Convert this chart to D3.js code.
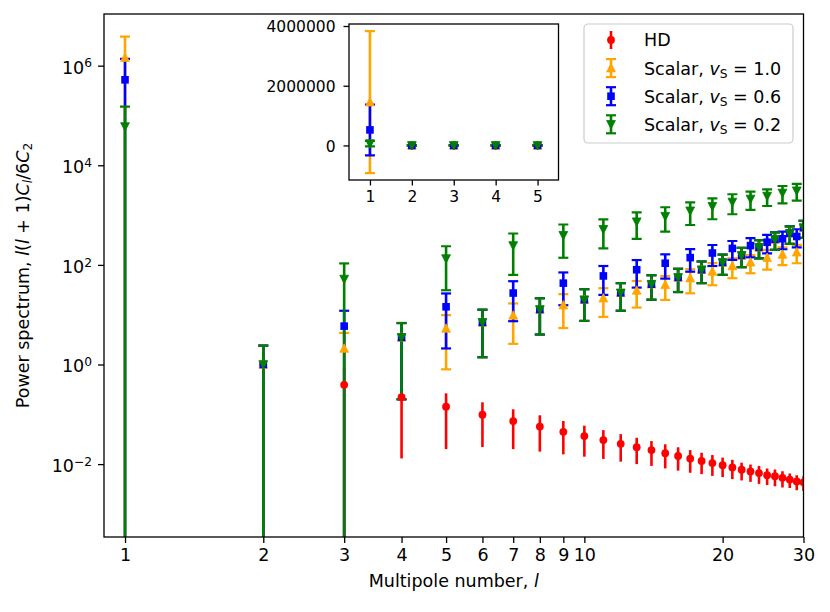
<!DOCTYPE html>
<html>
<head>
<meta charset="utf-8">
<script src="https://cdn.jsdelivr.net/npm/d3@7"></script>
<style>
  body { margin: 0; background: #fff; }
  svg { font-family: "DejaVu Sans", sans-serif; }
</style>
</head>
<body>
<div id="chart"></div>
<script>
// multipole numbers
const ells  = [1, 2, 3, 4, 5, 6, 7, 8, 9, 10, 11, 12, 13, 14, 15, 16, 17, 18, 19, 20, 21, 22, 23, 24, 25, 26, 27, 28, 29, 30];
const hdEll = [2, 3, 4, 5, 6, 7, 8, 9, 10, 11, 12, 13, 14, 15, 16, 17, 18, 19, 20, 21, 22, 23, 24, 25, 26, 27, 28, 29, 30];

// Hellings-Downs
const hdVal = [1.0, 0.39, 0.22, 0.142, 0.098, 0.073, 0.0567, 0.0445, 0.0366, 0.0304, 0.0256, 0.0219, 0.0191, 0.0166,
               0.0146, 0.0129, 0.0116, 0.0105, 0.0095, 0.0086, 0.0077, 0.0071, 0.0066, 0.0060, 0.0057, 0.0053, 0.0049, 0.0045, 0.0043];
const hdErr = [1.2, 0.45, 0.207, 0.122, 0.076, 0.053, 0.0389, 0.0288, 0.0225, 0.0177, 0.0144, 0.0119, 0.0099, 0.0084,
               0.0072, 0.0062, 0.0053, 0.0047, 0.0040, 0.0036, 0.0030, 0.0027, 0.0026, 0.0022, 0.0021, 0.0019, 0.0016, 0.0015, 0.0014];

// scalar, v_S = 1.0
const s10Val = [1.45e6, 1.0, 2.1, 3.5, 5.3, 7.0, 9.7, 12.7, 15.6, 20, 21.5, 27.5, 30.7, 41, 39.8, 56, 54.3, 80, 74, 112,
                95, 155, 113, 225, 140, 325, 162, 430, 180, 560];
const s10Err = [2.38e6, 1.4, 2.2, 3.3, 4.5, 5.6, 7.1, 8.7, 10.2, 12.5, 12.5, 15.5, 16.8, 21, 20, 27.5, 27.4, 37, 35, 49,
                41, 65, 45, 90, 60, 125, 63, 165, 72, 210];

// scalar, v_S = 0.6
const s06Val = [5.2e5, 1.0, 5.9, 3.5, 14.4, 7.0, 27.2, 12.7, 43, 20, 60, 27.5, 80, 41, 108, 56, 140, 80, 173, 112,
                214, 155, 244, 225, 285, 325, 335, 430, 372, 560];
const s06Err = [8.5e5, 1.4, 6.1, 3.3, 12.3, 5.6, 19.8, 8.7, 27.5, 12.5, 35, 15.5, 45, 21, 55, 27.5, 67, 37, 78, 49,
                88, 65, 102, 90, 114, 125, 129, 165, 147, 210];

// scalar, v_S = 0.2
const s02Val = [6.0e4, 1.0, 52, 3.5, 134, 7.0, 245, 12.7, 393, 20, 518, 27.5, 735, 41, 950, 56, 1220, 80, 1500, 112,
                1830, 155, 2110, 225, 2410, 325, 2780, 430, 3080, 560];
const s02Err = [9e4, 1.4, 55, 3.3, 103, 5.6, 182, 8.7, 254, 12.5, 303, 15.5, 403, 21, 486, 27.5, 588, 37, 675, 49,
                790, 65, 843, 90, 887, 125, 1055, 165, 1136, 210];

const xTicks      = [1, 2, 3, 4, 5, 6, 7, 8, 9, 10, 20, 30];
const yTicks      = [1e-2, 1, 1e2, 1e4, 1e6];
const insetXTicks = [1, 2, 3, 4, 5];
const insetYTicks = [0, 2000000, 4000000];

const SERIES = [
  { name: "HD",  l: hdEll, v: hdVal,  e: hdErr,  color: "#ff0000", marker: "circle", caps: false, sub: null },
  { name: "1.0", l: ells,  v: s10Val, e: s10Err, color: "#ffa500", marker: "up",     caps: true,  sub: "1.0" },
  { name: "0.6", l: ells,  v: s06Val, e: s06Err, color: "#0000ff", marker: "square", caps: true,  sub: "0.6" },
  { name: "0.2", l: ells,  v: s02Val, e: s02Err, color: "#008000", marker: "down",   caps: true,  sub: "0.2" }
];

const W = 830, H = 612;
const MAIN  = { left: 104, right: 803.5, top: 14, bottom: 537 };
const INSET = { left: 349, right: 558.5, top: 24, bottom: 180 };
const FS = 17.5, FS_IN = 15.5;
const CAP = 5, LW = 2.6;

const svg = d3.select("#chart").append("svg")
  .attr("width", W).attr("height", H);

const defs = svg.append("defs");

function drawMarker(g, kind, color, cx, cy) {
  if (kind === "circle") {
    g.append("circle").attr("cx", cx).attr("cy", cy).attr("r", 3.9).attr("fill", color);
  } else if (kind === "square") {
    g.append("rect").attr("x", cx - 3.8).attr("y", cy - 3.8).attr("width", 7.6).attr("height", 7.6).attr("fill", color);
  } else {
    const s = kind === "up" ? 1 : -1;
    g.append("path")
      .attr("d", `M${cx},${cy - 4.6 * s} L${cx + 4.4},${cy + 3.8 * s} L${cx - 4.4},${cy + 3.8 * s} Z`)
      .attr("fill", color).attr("stroke", color).attr("stroke-width", 0.8);
  }
}

// draws bars/caps of every series first, then all markers on top (matplotlib zorder)
function drawSeries(g, x, y, lo, filter) {
  SERIES.forEach(s => {
    s.l.forEach((l, i) => {
      if (!filter(l)) return;
      const v = s.v[i], e = s.e[i];
      const yTop = y(v + e);
      const yBot = (v - e) > lo ? y(v - e) : y.range()[0] + 20;
      g.append("line")
        .attr("x1", x(l)).attr("x2", x(l))
        .attr("y1", yTop).attr("y2", yBot)
        .attr("stroke", s.color).attr("stroke-width", LW);
      if (s.caps) {
        [v + e, v - e].forEach(c => {
          if (c <= lo) return;
          g.append("line")
            .attr("x1", x(l) - CAP).attr("x2", x(l) + CAP)
            .attr("y1", y(c)).attr("y2", y(c))
            .attr("stroke", s.color).attr("stroke-width", 2.2);
        });
      }
    });
  });
  SERIES.forEach(s => {
    s.l.forEach((l, i) => {
      if (!filter(l)) return;
      drawMarker(g, s.marker, s.color, x(l), y(s.v[i]));
    });
  });
}

function styleAxis(g, fs) {
  g.attr("font-family", "DejaVu Sans, sans-serif").attr("font-size", fs);
  g.select(".domain").remove();
  g.selectAll(".tick line").attr("stroke", "#000").attr("stroke-width", 1.3);
  g.selectAll(".tick text").attr("fill", "#000");
}

// ---------- main axes ----------
const x = d3.scaleLog().domain([0.9, 30]).range([MAIN.left, MAIN.right]);
const y = d3.scaleLog().domain([3.44e-4, 1.09e7]).range([MAIN.bottom, MAIN.top]);

defs.append("clipPath").attr("id", "clip-main").append("rect")
  .attr("x", MAIN.left).attr("y", MAIN.top)
  .attr("width", MAIN.right - MAIN.left).attr("height", MAIN.bottom - MAIN.top);

const plot = svg.append("g").attr("clip-path", "url(#clip-main)");
drawSeries(plot, x, y, 0, () => true);

const xAxisG = svg.append("g")
  .attr("transform", `translate(0,${MAIN.bottom})`)
  .call(d3.axisBottom(x).tickValues(xTicks).tickFormat(d3.format("d")).tickSize(6).tickPadding(6));
styleAxis(xAxisG, FS);

const yAxisG = svg.append("g")
  .attr("transform", `translate(${MAIN.left},0)`)
  .call(d3.axisLeft(y).tickValues(yTicks).tickSize(6).tickPadding(6));
styleAxis(yAxisG, FS);
yAxisG.selectAll(".tick text").each(function(d) {
  const t = d3.select(this).text("").attr("dy", "0.42em");
  const ex = Math.round(Math.log10(d));
  t.append("tspan").text("10");
  t.append("tspan").attr("dy", "-0.5em").attr("font-size", "0.7em")
    .text(ex < 0 ? "\u2212" + (-ex) : String(ex));
});

svg.append("rect")
  .attr("x", MAIN.left).attr("y", MAIN.top)
  .attr("width", MAIN.right - MAIN.left).attr("height", MAIN.bottom - MAIN.top)
  .attr("fill", "none").attr("stroke", "#000").attr("stroke-width", 1.3);

// axis labels
svg.append("text")
  .attr("x", (MAIN.left + MAIN.right) / 2).attr("y", 587)
  .attr("text-anchor", "middle").attr("font-size", FS)
  .text("Multipole number, ")
  .append("tspan").attr("font-style", "italic").text("l");

const yl = svg.append("text")
  .attr("transform", `translate(29,${(MAIN.top + MAIN.bottom) / 2}) rotate(-90)`)
  .attr("text-anchor", "middle").attr("font-size", FS);
yl.append("tspan").text("Power spectrum, ");
yl.append("tspan").attr("font-style", "italic").text("l");
yl.append("tspan").text("(");
yl.append("tspan").attr("font-style", "italic").text("l");
yl.append("tspan").text(" + 1)");
yl.append("tspan").attr("font-style", "italic").text("C");
yl.append("tspan").attr("font-style", "italic").attr("font-size", "0.7em").attr("dy", "0.25em").text("l");
yl.append("tspan").attr("dy", "-0.175em").text("/6");
yl.append("tspan").attr("font-style", "italic").text("C");
yl.append("tspan").attr("font-size", "0.7em").attr("dy", "0.25em").text("2");

// ---------- legend ----------
const LEG = { x: 584, y: 24, w: 209, h: 119 };
const leg = svg.append("g");
leg.append("rect")
  .attr("x", LEG.x).attr("y", LEG.y).attr("width", LEG.w).attr("height", LEG.h)
  .attr("rx", 4).attr("fill", "#fff").attr("fill-opacity", 0.8)
  .attr("stroke", "#cccccc").attr("stroke-width", 1.2);

SERIES.forEach((s, i) => {
  const cy = 40 + i * 28.1;
  const hx = 611;
  leg.append("line").attr("x1", hx).attr("x2", hx).attr("y1", cy - 9).attr("y2", cy + 9)
    .attr("stroke", s.color).attr("stroke-width", LW);
  if (s.caps) {
    [cy - 9, cy + 9].forEach(c => {
      leg.append("line").attr("x1", hx - CAP).attr("x2", hx + CAP).attr("y1", c).attr("y2", c)
        .attr("stroke", s.color).attr("stroke-width", 2.2);
    });
  }
  drawMarker(leg, s.marker, s.color, hx, cy);

  const t = leg.append("text").attr("x", 644).attr("y", cy + 6.4).attr("font-size", FS);
  if (!s.sub) {
    t.text(s.name);
  } else {
    t.append("tspan").text("Scalar, ");
    t.append("tspan").attr("font-style", "italic").text("v");
    t.append("tspan").attr("font-size", "0.7em").attr("dy", "0.25em").text("S");
    t.append("tspan").attr("dy", "-0.175em").text(" = " + s.sub);
  }
});

// ---------- inset ----------
const xi = d3.scaleLinear().domain([0.5, 5.5]).range([INSET.left, INSET.right]);
const yi = d3.scaleLinear().domain([-1157500, 4067500]).range([INSET.bottom, INSET.top]);

svg.append("rect")
  .attr("x", INSET.left).attr("y", INSET.top)
  .attr("width", INSET.right - INSET.left).attr("height", INSET.bottom - INSET.top)
  .attr("fill", "#fff");

defs.append("clipPath").attr("id", "clip-inset").append("rect")
  .attr("x", INSET.left).attr("y", INSET.top)
  .attr("width", INSET.right - INSET.left).attr("height", INSET.bottom - INSET.top);

const inset = svg.append("g").attr("clip-path", "url(#clip-inset)");
drawSeries(inset, xi, yi, -1e12, l => l <= 5);

const xiG = svg.append("g")
  .attr("transform", `translate(0,${INSET.bottom})`)
  .call(d3.axisBottom(xi).tickValues(insetXTicks).tickFormat(d3.format("d")).tickSize(5.5).tickPadding(5));
styleAxis(xiG, FS_IN);

const yiG = svg.append("g")
  .attr("transform", `translate(${INSET.left},0)`)
  .call(d3.axisLeft(yi).tickValues(insetYTicks).tickFormat(d3.format("d")).tickSize(5.5).tickPadding(8));
styleAxis(yiG, FS_IN);
yiG.selectAll(".tick text").attr("dy", "0.36em");

svg.append("rect")
  .attr("x", INSET.left).attr("y", INSET.top)
  .attr("width", INSET.right - INSET.left).attr("height", INSET.bottom - INSET.top)
  .attr("fill", "none").attr("stroke", "#000").attr("stroke-width", 1.3);
</script>
</body>
</html>
